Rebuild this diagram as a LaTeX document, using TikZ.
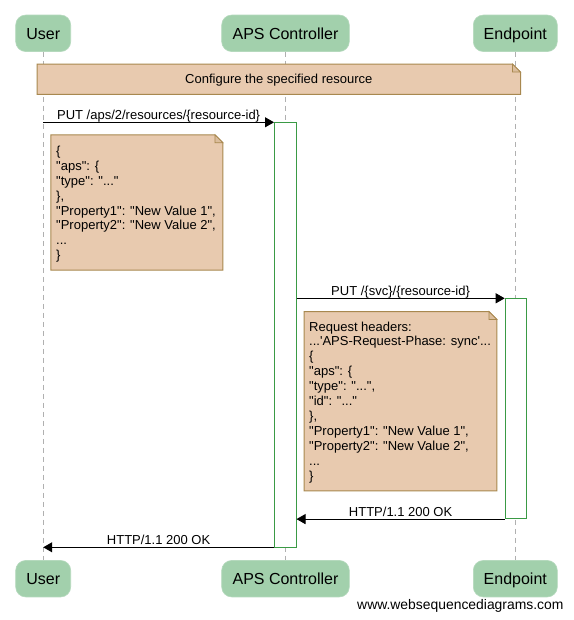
\documentclass[tikz,border=0pt]{standalone}
\usepackage{fontspec}
\setmainfont{Liberation Sans}[Ligatures=TeXOff]
\usetikzlibrary{arrows.meta}
\definecolor{partfill}{HTML}{A2D0AC}
\definecolor{notefill}{HTML}{E8CAAF}
\definecolor{noteline}{HTML}{A8884F}
\definecolor{actline}{HTML}{3A9A45}
\definecolor{lifeline}{HTML}{B0B0B0}
\newcommand\drawnote[1]{%
  \filldraw[notefill, draw=noteline, line width=1pt]
    (#1.north west) -- ([xshift=-8pt]#1.north east) -- ([yshift=-8pt]#1.north east)
    -- (#1.south east) -- (#1.south west) -- cycle;
  \draw[noteline, line width=0.8pt, fill=notefill!80!noteline]
    ([xshift=-8pt]#1.north east) -- ([xshift=-8pt,yshift=-8pt]#1.north east) -- ([yshift=-8pt]#1.north east) -- cycle;}
\tikzset{
  part/.style={fill=partfill, draw=partfill!80!white, line width=0.6pt, rounded corners=10pt, inner sep=0pt,
    font=\fontsize{16}{19}\selectfont, text height=11.5pt, text depth=0pt, minimum height=36.5pt},
  notearea/.style={inner sep=0pt, draw=none},
  notetext/.style={inner sep=0pt, align=left, anchor=base west, font=\fontsize{13}{14.9}\selectfont},
  actbox/.style={draw=actline, fill=white, line width=0.8pt, inner sep=0pt, anchor=north west},
  life/.style={draw=lifeline, line width=0.7pt, dash pattern=on 5pt off 4pt},
  msg/.style={draw=black, line width=0.9pt, -{Triangle[length=9pt,width=10pt]}},
  lbl/.style={font=\fontsize{13}{15}\selectfont, inner sep=0pt, anchor=base, yshift=2.6pt},
}
\begin{document}
\begin{tikzpicture}[x=1pt,y=-1pt]
\useasboundingbox[fill=white] (0,0) rectangle (573,620);
% participants
\node[part, minimum width=55pt]   (u1) at (43.2,33.3) {User};
\node[part, minimum width=127.6pt] (c1) at (285.5,33.3) {APS Controller};
\node[part, minimum width=84pt]   (e1) at (515.3,33.3) {Endpoint};
\node[part, minimum width=55pt]   (u2) at (43.2,578.7) {User};
\node[part, minimum width=127.6pt] (c2) at (285.5,578.7) {APS Controller};
\node[part, minimum width=84pt]   (e2) at (515.3,578.7) {Endpoint};
% lifelines
\draw[life] (u1) -- (u2);
\draw[life] (c1) -- (c2);
\draw[life] (e1) -- (e2);
% top note
\node[notearea, minimum width=483pt, minimum height=30pt] (n0) at (278.8,79.3) {};
\drawnote{n0}
\node[font=\fontsize{13}{15}\selectfont, inner sep=0pt, anchor=base] (t0) at (278.8,83.6) {Configure the specified resource};
% activations
\node[actbox, minimum width=21.7pt, minimum height=424.2pt] (a1) at (274,122.3) {};
\node[actbox, minimum width=21pt, minimum height=220pt] (a2) at (504.7,298.3) {};
% messages
\draw[msg] (u1.south |- a1.north) -- (a1.north west)
  node[lbl, midway] {PUT /aps/2/resources/\{resource-id\}};
\draw[msg] (a1.east |- a2.north) -- (a2.north west)
  node[lbl, midway] {PUT /\{svc\}/\{resource-id\}};
\draw[msg] (a2.south west) -- (a1.east |- a2.south)
  node[lbl, midway] {HTTP/1.1 200 OK};
\draw[msg] (a1.south west) -- (u1.south |- a1.south)
  node[lbl, midway] {HTTP/1.1 200 OK};
% note 1 (anchor is the baseline of the last line)
\node[notearea, minimum width=171.7pt, minimum height=135pt] (n1) at (136.85,202.5) {};
\drawnote{n1}
\node[notetext] (t1) at (56,259.7) {\{\\"aps": \{\\"type": "..."\\\},\\"Property1": "New Value 1",\\"Property2": "New Value 2",\\...\\\}};
% note 2
\node[notearea, minimum width=192.4pt, minimum height=179pt] (n2) at (400.5,401.2) {};
\drawnote{n2}
\node[notetext] (t2) at (309,480) {Request headers:\\...\textquotesingle APS-Request-Phase: sync\textquotesingle...\\\{\\"aps": \{\\"type": "...",\\"id": "..."\\\},\\"Property1": "New Value 1",\\"Property2": "New Value 2",\\...\\\}};
% footer
\node[font=\fontsize{13.9}{16}\selectfont, inner sep=0pt, anchor=base east] (ft) at (563.7,609.3) {www.websequencediagrams.com};
\end{tikzpicture}
\end{document}
